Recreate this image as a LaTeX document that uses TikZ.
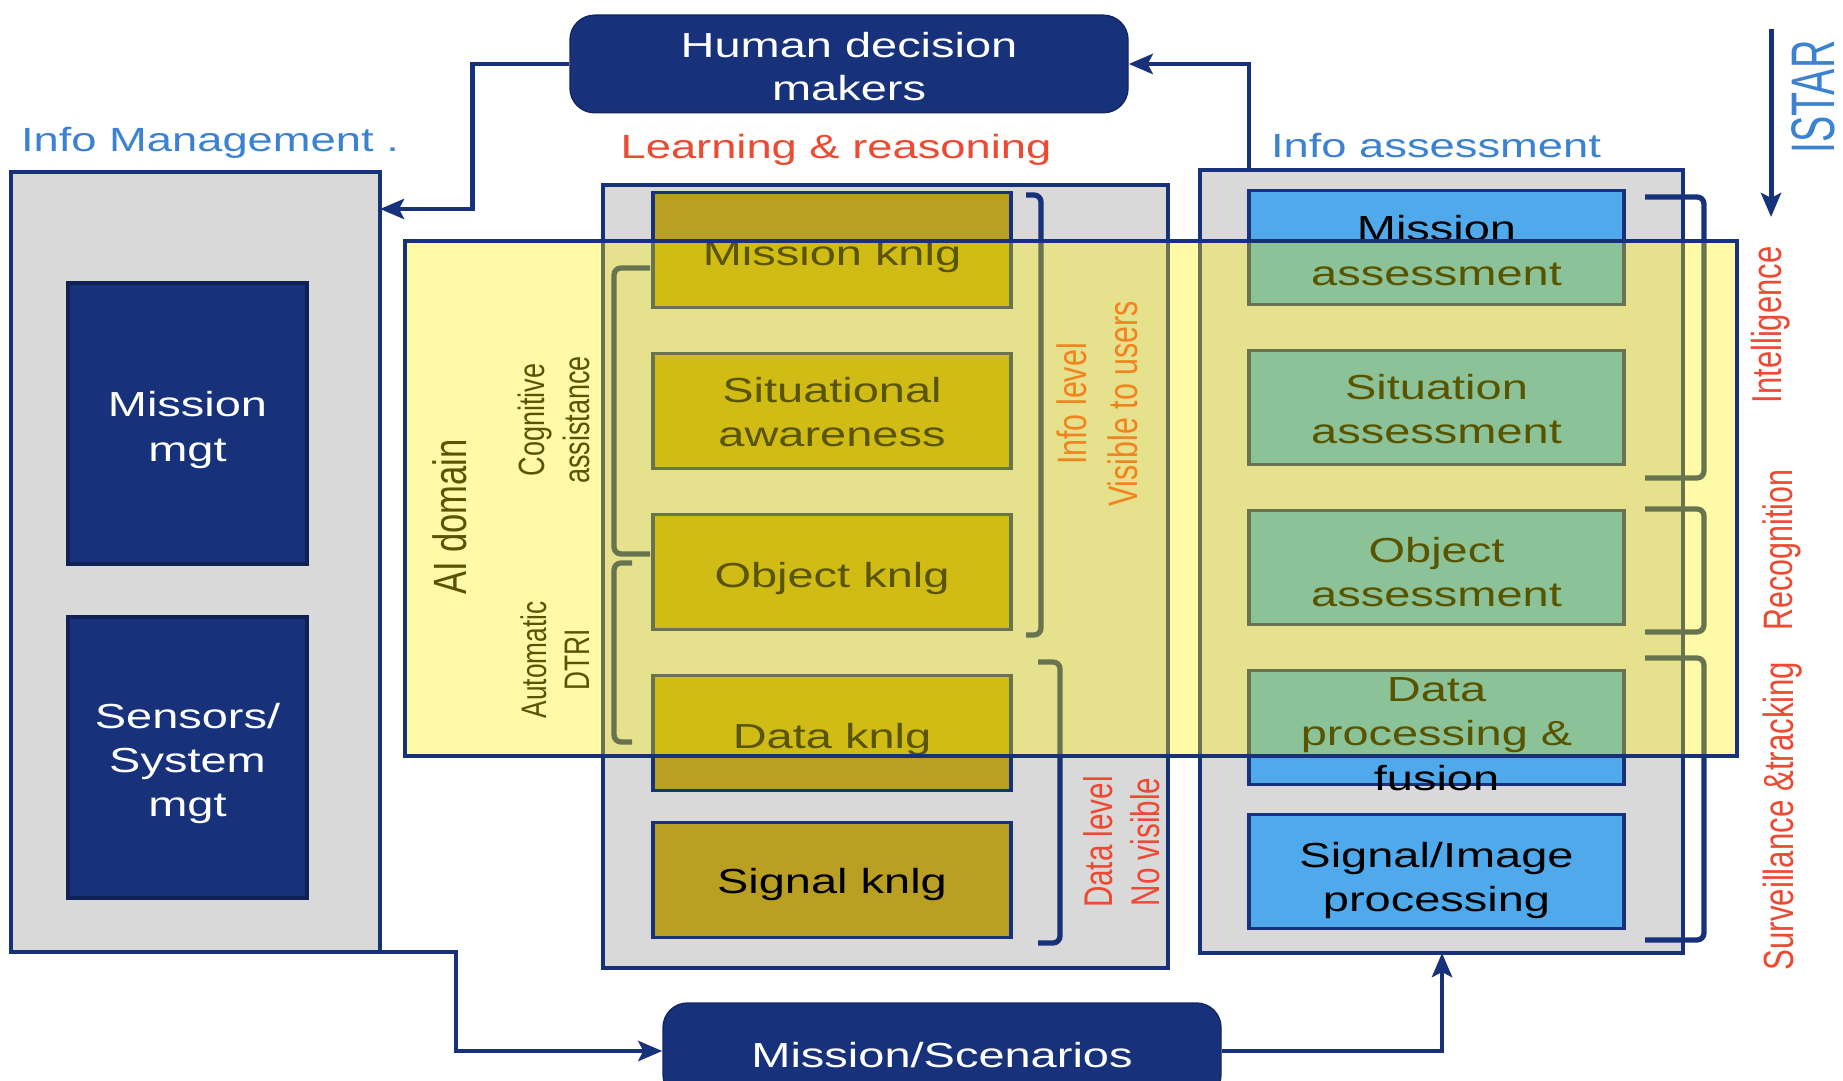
\documentclass[tikz,border=0pt]{standalone}
\usepackage{fontspec}
\setmainfont{Liberation Sans}[FakeStretch=1.35]
\newfontfamily\tallfont{Liberation Sans}[FakeStretch=0.74]
\newfontfamily\istarfont{Liberation Sans}[FakeStretch=0.64]
\usetikzlibrary{calc}
\usetikzlibrary{positioning}
\usetikzlibrary{arrows.meta}
\definecolor{navy}{HTML}{17317A}
\definecolor{boxgray}{HTML}{D9D9D9}
\definecolor{knlggold}{HTML}{B9A023}
\definecolor{assessblue}{HTML}{4FA9EB}
\definecolor{labelblue}{HTML}{3C82D2}
\definecolor{labelred}{HTML}{EC4A32}
\tikzstyle{groupbox} = [draw=navy, fill=boxgray, line width=1.2pt, outer sep=0pt]
\tikzstyle{darkbox} = [draw=navy!80!black, fill=navy, text=white, rounded corners=7pt, minimum width=5.58cm, minimum height=0.96cm, align=center, font=\fontsize{9.9}{12.4}\selectfont]
\tikzstyle{mgtnode} = [draw=navy!70!black, fill=navy, text=white, line width=1pt, minimum width=2.39cm, minimum height=2.81cm, outer sep=0pt, align=center, font=\fontsize{9.9}{12.6}\selectfont]
\tikzstyle{knlgnode} = [draw=navy, fill=knlggold, line width=1pt, minimum width=3.58cm, minimum height=1.15cm, inner sep=1pt, outer sep=0pt, align=center, text height=10.6pt, font=\fontsize{9.9}{12.6}\selectfont]
\tikzstyle{assessnode} = [draw=navy, fill=assessblue, line width=1pt, minimum width=3.75cm, minimum height=1.14cm, inner sep=1pt, outer sep=0pt, align=center, font=\fontsize{9.9}{12.6}\selectfont]
\tikzstyle{grouplabel} = [anchor=base, inner sep=0pt, font=\fontsize{9.55}{11}\selectfont]
\tikzstyle{rotlabel} = [rotate=90, inner sep=0pt, align=center]
\tikzstyle{brace} = [draw=navy, line width=1.5pt, rounded corners=2pt]
\tikzstyle{flow} = [draw=navy, line width=1.4pt, -{Stealth[length=2.4mm,width=2mm,inset=0.5mm]}]
\tikzstyle{aioverlay} = [draw=navy, line width=1pt, fill=yellow, fill opacity=0.35, draw opacity=1, minimum width=13.32cm, minimum height=5.15cm, outer sep=0pt]

\begin{document}
\begin{tikzpicture}
\useasboundingbox (0,0) rectangle (18.43,10.80);
\clip (0,0) rectangle (18.43,10.80);

% frames
\node[groupbox, minimum width=3.69cm, minimum height=7.80cm] (infomgt) at (1.955,5.18) {};
\node[groupbox, minimum width=5.65cm, minimum height=7.83cm] (learnbox) at (8.855,5.035) {};
\node[groupbox, minimum width=4.83cm, minimum height=7.83cm] (assessbox) at (14.415,5.185) {};

\node[darkbox, text height=21pt] (human) at (8.49,10.16) {Human decision\\makers};
\node[darkbox, text height=9.3pt] (scenarios) at (9.42,0.29) {Mission/Scenarios};

\node[grouplabel, text=labelblue] (imlabel) at (2.10,9.28) {Info Management .};
\node[grouplabel, text=labelred] (lrlabel) at (8.36,9.21) {Learning \& reasoning};
\node[grouplabel, text=labelblue] (ialabel) at (14.36,9.22) {Info assessment};
\node[rotlabel, text=labelblue, font=\istarfont\fontsize{17.5}{20}\selectfont] (istar) at (18.13,9.83) {ISTAR};

% management
\node[mgtnode, text height=23.5pt] (missmgt) at (1.875,6.565) {Mission\\mgt};
\node[mgtnode, text height=35.7pt, below=0.53cm of missmgt] (sensmgt) {Sensors/\\System\\mgt};

% knowledge
\node[knlgnode] (mknlg) at (8.32,8.30) {Mission knlg};
\node[knlgnode, text height=20.5pt, below=0.46cm of mknlg] (sitaware) {Situational\\awareness};
\node[knlgnode, below=0.46cm of sitaware] (objknlg) {Object knlg};
\node[knlgnode, below=0.46cm of objknlg] (dataknlg) {Data knlg};
\node[knlgnode, text height=10pt, below=0.32cm of dataknlg] (sigknlg) {Signal knlg};

% assessment
\node[assessnode, text height=21.5pt] (missassess) at (14.365,8.325) {Mission\\assessment};
\node[assessnode, text height=20.5pt, below=0.46cm of missassess] (sitassess) {Situation\\assessment};
\node[assessnode, text height=22.5pt, below=0.46cm of sitassess] (objassess) {Object\\assessment};
\node[assessnode, below=0.46cm of objassess] (dpfusion) {};
\node[align=center, font=\fontsize{9.9}{12.6}\selectfont] (dpftext) at ($(dpfusion)+(0,-0.065)$) {Data\\processing \&\\fusion};
\node[assessnode, text height=24.8pt, below=0.30cm of dpfusion] (sigassess) {Signal/Image\\processing};

% brackets
\draw[brace] (6.50,8.12) -- (6.14,8.12) -- (6.14,5.26) -- (6.50,5.26);
\draw[brace] (6.32,5.17) -- (6.14,5.17) -- (6.14,3.38) -- (6.32,3.38);
\draw[brace] (10.26,8.85) -- (10.41,8.85) -- (10.41,4.45) -- (10.26,4.45);
\draw[brace] (10.38,4.18) -- (10.60,4.18) -- (10.60,1.37) -- (10.38,1.37);
\foreach \top/\bot in {8.83/6.02, 5.71/4.48, 4.22/1.40}
  \draw[brace] (16.45,\top) -| (17.04,\bot) -- (16.45,\bot);

\node[rotlabel, font=\tallfont\fontsize{13.3}{15}\selectfont] (ailabel) at (4.50,5.63) {AI domain};
\node[rotlabel, font=\tallfont\fontsize{10.4}{12.7}\selectfont] (coglabel) at (5.54,6.60) {Cognitive\\assistance};
\node[rotlabel, font=\tallfont\fontsize{10.1}{12.2}\selectfont] (dtrilabel) at (5.55,4.20) {Automatic\\DTRI};
\node[rotlabel, text=labelred, font=\tallfont\fontsize{11.7}{14.4}\selectfont] (infolevel) at (10.97,6.76) {Info level\\Visible to users};
\node[rotlabel, text=labelred, font=\tallfont\fontsize{11.4}{13.4}\selectfont] (datalevel) at (11.22,2.38) {Data level\\No visible};

% AI domain overlay
\node[aioverlay] (aibox) at (10.71,5.815) {};

\node[rotlabel, text=labelred, font=\tallfont\fontsize{11.9}{14}\selectfont] (intel) at (17.71,7.55) {Intelligence};
\node[rotlabel, text=labelred, font=\tallfont\fontsize{11.7}{14}\selectfont] (recog) at (17.82,5.30) {Recognition};
\node[rotlabel, text=labelred, font=\tallfont\fontsize{12}{14}\selectfont] (surv) at (17.83,2.64) {Surveillance \&tracking};

% connectors
\coordinate (imin) at ($(infomgt.north east)+(0,-0.37)$);
\coordinate (iaout) at ($(assessbox.north west)+(0.49,0)$);
\coordinate (iain) at ($(assessbox.south west)+(2.42,0)$);
\coordinate (istartop) at (17.71,10.51);
\coordinate (istarend) at (17.71,8.63);
\draw[flow] (human.west) -- ++(-0.97,0) |- (imin);
\draw[flow] (iaout) |- (human.east);
\draw[flow] (infomgt.south east) -- ++(0.76,0) |- (scenarios.west);
\draw[flow] (scenarios.east) -| (iain);
\draw[flow] (istartop) -- (istarend);
\end{tikzpicture}
\end{document}
